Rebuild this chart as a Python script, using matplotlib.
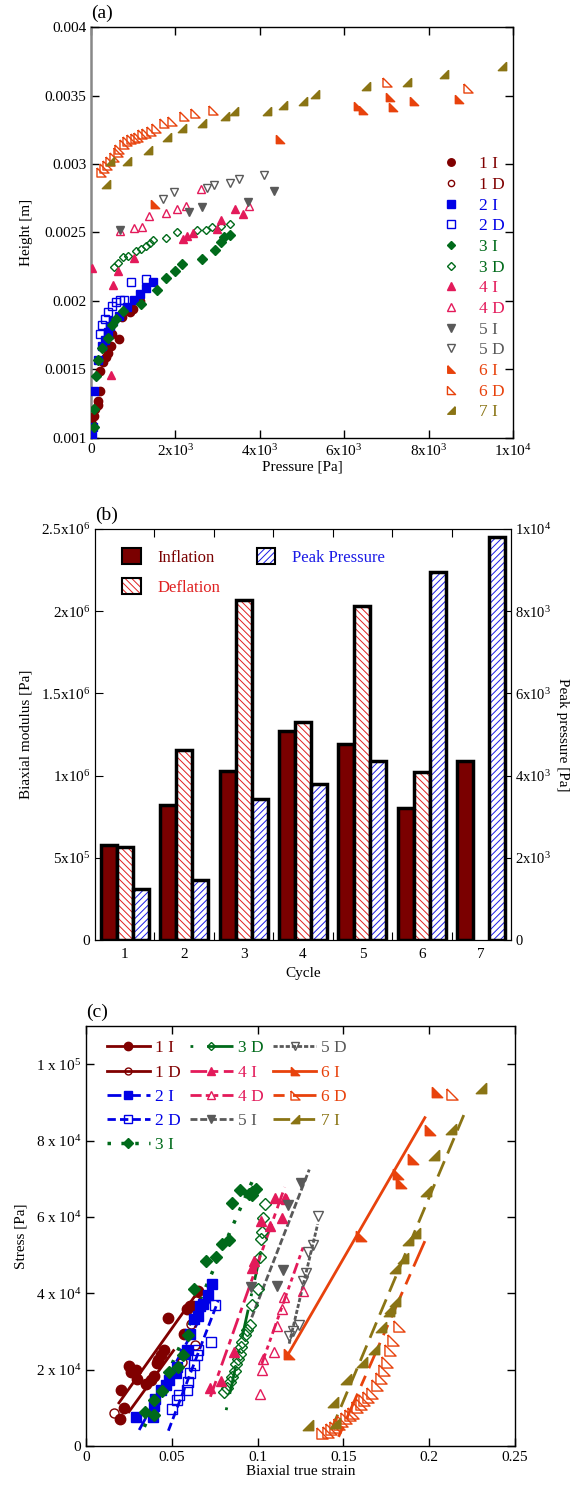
import numpy as np
import matplotlib
matplotlib.use('Agg')
import matplotlib.pyplot as plt
from matplotlib.patches import Patch

plt.rcParams['font.family'] = ['Liberation Serif', 'DejaVu Serif']
plt.rcParams['mathtext.fontset'] = 'custom'
plt.rcParams['mathtext.rm'] = 'Liberation Serif'
plt.rcParams['mathtext.it'] = 'Liberation Serif:italic'
plt.rcParams['hatch.linewidth'] = 0.7

# ---------------- panel (a): height vs pressure ----------------
p_1i = [31, 79, 95, 174, 174, 213, 213, 292, 348, 411, 474, 671, 490, 727, 924, 1003, 1161]
h_1i = [0.001105, 0.00116, 0.001208, 0.001244, 0.001273, 0.001345, 0.00149, 0.001557, 0.001593,
        0.001617, 0.001673, 0.001725, 0.001756, 0.001886, 0.001918, 0.001942, 0.002001]
p_1d = [174, 292, 411, 727]
h_1d = [0.00125, 0.00156, 0.00162, 0.00189]
p_2i = [31, 55, 79, 158, 268, 332, 395, 450, 529, 664, 845, 1027, 1161, 1304, 1462]
h_2i = [0.001015, 0.00108, 0.00134, 0.001569, 0.001673, 0.001713, 0.001773, 0.001817, 0.001857,
        0.001893, 0.001954, 0.002009, 0.00205, 0.002098, 0.002139]
p_2d = [213, 268, 332, 411, 490, 585, 687, 790, 940, 1304]
h_2d = [0.001761, 0.001826, 0.00187, 0.001918, 0.001961, 0.00199, 0.002007, 0.002009, 0.002139, 0.002158]
p_3i = [63, 79, 118, 158, 268, 395, 490, 585, 766, 1185, 1557, 1770, 1998, 2157, 2623, 2939, 3089,
        3144, 3286]
h_3i = [0.00108, 0.001208, 0.001451, 0.001569, 0.001653, 0.00173, 0.001821, 0.001869, 0.001925,
        0.001975, 0.002083, 0.002165, 0.00222, 0.002271, 0.002307, 0.002369, 0.00243, 0.002466, 0.002483]
p_3d = [553, 648, 751, 885, 1059, 1178, 1304, 1398, 1477, 1770, 2038, 2505, 2718, 2860, 3081, 3302]
h_3d = [0.00225, 0.002278, 0.002322, 0.002326, 0.002362, 0.002379, 0.002398, 0.002423, 0.002447,
        0.002461, 0.002504, 0.002516, 0.002516, 0.002538, 0.002545, 0.00256]
p_4i = [31, 648, 529, 466, 1027, 2172, 2275, 2409, 2986, 3081, 3421, 3603]
h_4i = [0.002237, 0.002218, 0.002115, 0.00146, 0.002316, 0.002453, 0.002472, 0.002496, 0.002527,
        0.002591, 0.002668, 0.002632]
p_4d = [687, 1027, 1201, 1382, 1778, 2045, 2252, 2615, 3752]
h_4d = [0.002511, 0.002531, 0.00254, 0.00262, 0.002644, 0.002673, 0.002692, 0.00282, 0.002692]
p_5i = [687, 2323, 2639, 3713, 4330]
h_5i = [0.002519, 0.002646, 0.002687, 0.002719, 0.002803]
p_5d = [1706, 1959, 2741, 2907, 3302, 3508, 4108]
h_5d = [0.002747, 0.002795, 0.002827, 0.002846, 0.00286, 0.002889, 0.002923]
p_6i = [1517, 4480, 6336, 6455, 7086, 7150, 7655, 8729]
h_6i = [0.002711, 0.00318, 0.003421, 0.003397, 0.003486, 0.003413, 0.003457, 0.003476]
p_6d = [237, 316, 379, 442, 537, 632, 664, 790, 853, 948, 1043, 1122, 1201, 1296, 1422, 1548, 1722,
        1928, 2204, 2465, 2900, 7008, 8928]
h_6d = [0.002939, 0.002968, 0.002995, 0.003024, 0.003048, 0.003084, 0.003108, 0.003144, 0.003168,
        0.00318, 0.003192, 0.003197, 0.003216, 0.003228, 0.00324, 0.003264, 0.003298, 0.003317,
        0.003348, 0.00337, 0.003397, 0.003601, 0.003558]
p_7i = [348, 458, 845, 1359, 1793, 2149, 2639, 3176, 3397, 4164, 4558, 5032, 5309, 6518, 7497, 8366, 9733]
h_7i = [0.002856, 0.003024, 0.003019, 0.003101, 0.0032, 0.00326, 0.003296, 0.003353, 0.00339, 0.00339,
        0.003433, 0.003457, 0.003509, 0.00357, 0.003601, 0.003654, 0.003716]

# ---------------- panel (b): modulus per cycle ----------------
cycles = [1, 2, 3, 4, 5, 6, 7]
mod_inflation = [5.8e5, 8.2e5, 1.03e6, 1.27e6, 1.19e6, 8.05e5, 1.09e6]
mod_deflation = [5.67e5, 1.157e6, 2.07e6, 1.328e6, 2.03e6, 1.02e6, np.nan]
peak_pressure = [1230, 1465, 3430, 3800, 4360, 8960, 9800]

# ---------------- panel (c): stress vs strain ----------------
e_1i = [0.0198, 0.0203, 0.022, 0.025, 0.0262, 0.0292, 0.0299, 0.0352, 0.0378, 0.0395, 0.0412, 0.042,
        0.0437, 0.0454, 0.048, 0.0569, 0.0591, 0.0608, 0.0625, 0.0651]
s_1i = [6960, 14600, 9830, 20860, 19300, 19820, 17650, 16170, 17210, 18260, 21730, 22600, 23730,
        25220, 33560, 29390, 35910, 36770, 36770, 40680]
e_1d = [0.0164, 0.0559, 0.0612, 0.0634, 0.064]
s_1d = [8520, 21990, 32000, 26340, 38080]
e_2i = [0.0292, 0.039, 0.0395, 0.0405, 0.0437, 0.0469, 0.0484, 0.0523, 0.0533, 0.0576, 0.0587, 0.0608,
        0.0629, 0.0651, 0.0667, 0.0683, 0.071, 0.0736]
s_2i = [7650, 7650, 10430, 12430, 14600, 15910, 17390, 19120, 20690, 24170, 25040, 29390, 33300,
        34160, 36770, 37210, 39640, 42430]
e_2d = [0.0501, 0.0533, 0.0544, 0.0587, 0.0597, 0.0608, 0.0629, 0.0646, 0.0651, 0.0731, 0.0753]
s_2d = [9570, 12000, 13300, 14600, 16770, 19120, 21120, 23730, 25040, 27200, 37030]
e_3i = [0.0341, 0.0395, 0.0395, 0.0442, 0.0484, 0.0538, 0.0565, 0.0597, 0.0629, 0.0698, 0.0758,
        0.0794, 0.0832, 0.0851, 0.09, 0.0949, 0.097, 0.0988, 0.0966]
s_3i = [8950, 12170, 8080, 14430, 19380, 20690, 23730, 28950, 41120, 48510, 49550, 53030, 53900,
        63710, 66940, 66060, 66580, 67210, 65650]
e_3d = [0.0804, 0.0821, 0.0838, 0.0853, 0.0868, 0.0875, 0.0885, 0.0896, 0.0902, 0.0911, 0.0924,
        0.0941, 0.0956, 0.097, 0.1002, 0.1013, 0.1017, 0.1024, 0.1034, 0.1045]
s_3d = [14170, 15300, 16770, 18080, 19640, 21560, 22870, 24170, 25900, 27200, 28950, 30430, 31740,
        37030, 41120, 49550, 54160, 56150, 59800, 63450]
e_4i = [0.0721, 0.0789, 0.086, 0.097, 0.0981, 0.1017, 0.1073, 0.1099, 0.1141, 0.1158]
s_4i = [15300, 16950, 24600, 46600, 48510, 58940, 57640, 65020, 59800, 65020]
e_4d = [0.1013, 0.1026, 0.1034, 0.1094, 0.1116, 0.1141, 0.1152, 0.1265, 0.1163]
s_4d = [13730, 19820, 22870, 24600, 31560, 35910, 38940, 40680, 64580]
e_5i = [0.096, 0.1116, 0.1146, 0.1175, 0.1252]
s_5i = [41550, 41990, 46080, 63110, 68930]
e_5d = [0.1184, 0.1205, 0.1244, 0.1265, 0.128, 0.1295, 0.1323, 0.135]
s_5d = [28690, 30250, 31820, 43290, 45200, 50940, 52680, 60240]
e_6i = [0.1184, 0.16, 0.1819, 0.1834, 0.1905, 0.2005, 0.2045]
s_6i = [24170, 55030, 71280, 68930, 75290, 82900, 92800]
e_6d = [0.1376, 0.1408, 0.1429, 0.145, 0.1472, 0.1493, 0.1515, 0.1536, 0.1557, 0.1579, 0.16, 0.1621,
        0.1643, 0.1664, 0.1696, 0.1721, 0.1734, 0.1755, 0.177, 0.1792, 0.1824, 0.2133]
s_6d = [3300, 3740, 4350, 5040, 5740, 6610, 7220, 8080, 8690, 10090, 10950, 12000, 12860, 13900, 15910,
        17910, 19820, 21990, 25040, 27640, 31560, 92300]
e_7i = [0.1291, 0.144, 0.145, 0.1515, 0.1611, 0.1679, 0.1717, 0.1764, 0.177, 0.1802, 0.1798, 0.1845,
        0.1877, 0.192, 0.1984, 0.2026, 0.213, 0.2302]
s_7i = [5480, 11560, 5910, 17650, 21990, 25480, 31110, 35470, 36170, 38080, 46600, 49370, 53900,
        55890, 66760, 76150, 83000, 93900]

# fitted lines: (strain start, strain end), (stress start, stress end)
fit_1i = ([0.0192, 0.063], [11300, 39000])
fit_1d = ([0.025, 0.051], [8950, 25000])
fit_2i = ([0.031, 0.072], [4200, 38000])
fit_2d = ([0.048, 0.077], [4000, 38000])
fit_3i = ([0.034, 0.099], [5000, 71500])
fit_3d = ([0.0817, 0.1035], [9400, 54200])
fit_4i = ([0.0725, 0.1158], [12900, 67800])
fit_4d = ([0.1024, 0.1265], [21500, 52000])
fit_5i = ([0.0966, 0.1301], [33700, 72400])
fit_5d = ([0.1184, 0.135], [26800, 58100])
fit_6i = ([0.118, 0.1975], [24200, 86000])
fit_6d = ([0.1472, 0.1984], [2400, 54600])
fit_7i = ([0.1429, 0.2214], [4200, 88000])

labels = ['1 I', '1 D', '2 I', '2 D', '3 I', '3 D', '4 I', '4 D', '5 I', '5 D', '6 I', '6 D', '7 I']
c1, c2, c3, c4, c5, c6, c7 = '#800000', '#0000e6', '#006a1a', '#e31a5a', '#595959', '#e8420c', '#8a7414'
colors = [c1, c1, c2, c2, c3, c3, c4, c4, c5, c5, c6, c6, c7]
tri6 = [(-1, 1), (-1, -1), (1, -1), (-1, 1)]
tri7 = [(1, 1), (1, -1), (-1, -1), (1, 1)]
markers = ['o', 'o', 's', 's', 'D', 'D', '^', '^', 'v', 'v', tri6, tri6, tri7]
filled = [True, False] * 6 + [True]
msizes = [6, 5, 6, 6, 5, 4.5, 6, 6, 6, 6, 6, 6.5, 6]

a_data = [(p_1i, h_1i), (p_1d, h_1d), (p_2i, h_2i), (p_2d, h_2d), (p_3i, h_3i), (p_3d, h_3d),
          (p_4i, h_4i), (p_4d, h_4d), (p_5i, h_5i), (p_5d, h_5d), (p_6i, h_6i), (p_6d, h_6d),
          (p_7i, h_7i)]
c_data = [(e_1i, s_1i), (e_1d, s_1d), (e_2i, s_2i), (e_2d, s_2d), (e_3i, s_3i), (e_3d, s_3d),
          (e_4i, s_4i), (e_4d, s_4d), (e_5i, s_5i), (e_5d, s_5d), (e_6i, s_6i), (e_6d, s_6d),
          (e_7i, s_7i)]
fits = [fit_1i, fit_1d, fit_2i, fit_2d, fit_3i, fit_3d, fit_4i, fit_4d, fit_5i, fit_5d, fit_6i,
        fit_6d, fit_7i]
dashes = [None, None, (5, 2), (3, 1.5), (1, 3), (1, 5, 10, 5), (6, 2, 2, 2), (4, 1.5, 1.5, 1.5, 1.5, 1.5),
          (2.5, 1), (1.5, 0.7), None, (4, 3, 10, 3), (6, 3)]
line_w = [2, 2, 2, 2, 2.5, 2, 2, 2, 2, 2, 2, 2, 2]

fig = plt.figure(figsize=(5.71, 14.85), dpi=100)


def style_ticks(ax):
    ax.tick_params(direction='in', length=6, width=1, top=True, right=True, labelsize=11)
    for s in ax.spines.values():
        s.set_linewidth(1.0)


def color_legend(leg, cols):
    for t, c in zip(leg.get_texts(), cols):
        t.set_color(c)


# ---- (a)
ax1 = fig.add_axes([0.1594, 0.7051, 0.739, 0.2767])
order = [1, 0] + list(range(2, 13))
handles_a = [None] * 13
for i in order:
    x, y = a_data[i]
    mfc = colors[i] if filled[i] else 'none'
    ln, = ax1.plot(x, y, linestyle='none', marker=markers[i], ms=msizes[i], mfc=mfc,
                   mec=colors[i], mew=1.0, label=labels[i], zorder=3)
    handles_a[i] = ln
ax1.set_xlim(0, 1e4)
ax1.set_ylim(0.001, 0.004)
ax1.set_xticks([0, 2e3, 4e3, 6e3, 8e3, 1e4])
ax1.set_xticklabels(['0', '2x10$^3$', '4x10$^3$', '6x10$^3$', '8x10$^3$', '1x10$^4$'])
ax1.set_yticks([0.001, 0.0015, 0.002, 0.0025, 0.003, 0.0035, 0.004])
ax1.set_yticklabels(['0.001', '0.0015', '0.002', '0.0025', '0.003', '0.0035', '0.004'])
style_ticks(ax1)
ax1.spines['left'].set_color('#888888')
ax1.spines['left'].set_linewidth(1.8)
ax1.set_xlabel('Pressure [Pa]', fontsize=11, labelpad=1)
ax1.set_ylabel('Height [m]', fontsize=11, labelpad=8)
ax1.text(0.0, 1.012, '(a)', transform=ax1.transAxes, fontsize=14, ha='left', va='bottom')
leg1 = ax1.legend(handles_a, labels, loc='upper left', bbox_to_anchor=(0.8, 0.715), frameon=False,
                  fontsize=12.5, labelspacing=0.26, handletextpad=1.0, handlelength=1.2,
                  borderpad=0.2, markerscale=0.9)
color_legend(leg1, colors)

# ---- (b)
ax2 = fig.add_axes([0.1664, 0.367, 0.7285, 0.2768])
ax2r = ax2.twinx()
w = 0.27
xc = np.array(cycles, dtype=float)
ax2.bar(xc - w, mod_inflation, width=w, color='#7a0000', edgecolor='black', linewidth=2.5, zorder=3)
ax2.bar(xc, mod_deflation, width=w, color='white', edgecolor='#e02020', hatch='\\\\\\\\\\',
        linewidth=0, zorder=3)
ax2.bar(xc, mod_deflation, width=w, fill=False, edgecolor='black', linewidth=2.5, zorder=4)
ax2r.bar(xc + w, peak_pressure, width=w, color='white', edgecolor='#1a1ae6', hatch='/////',
         linewidth=0, zorder=3)
ax2r.bar(xc + w, peak_pressure, width=w, fill=False, edgecolor='black', linewidth=2.5, zorder=4)
ax2.set_xlim(0.5, 7.5)
ax2.set_ylim(0, 2.5e6)
ax2r.set_ylim(0, 1e4)
ax2.set_xticks([1.5, 2.5, 3.5, 4.5, 5.5, 6.5])
ax2.set_xticklabels([])
ax2.set_xticks(cycles, minor=True)
ax2.set_xticklabels([str(c) for c in cycles], minor=True)
ax2.tick_params(axis='x', which='minor', length=0, labelsize=11, pad=6)
ax2.tick_params(axis='x', which='major', direction='in', length=6, top=True)
ax2.set_yticks([0, 5e5, 1e6, 1.5e6, 2e6, 2.5e6])
ax2.set_yticklabels(['0', '5x10$^5$', '1x10$^6$', '1.5x10$^6$', '2x10$^6$', '2.5x10$^6$'])
ax2.tick_params(axis='y', direction='in', length=6, labelsize=11)
ax2r.set_yticks([0, 2e3, 4e3, 6e3, 8e3, 1e4])
ax2r.set_yticklabels(['0', '2x10$^3$', '4x10$^3$', '6x10$^3$', '8x10$^3$', '1x10$^4$'])
ax2r.tick_params(axis='y', direction='in', length=6, labelsize=10.5, pad=3)
ax2.set_xlabel('Cycle', fontsize=11, labelpad=4)
ax2.set_ylabel('Biaxial modulus [Pa]', fontsize=11, labelpad=6)
ax2r.set_ylabel('Peak pressure [Pa]', fontsize=11, rotation=270, va='center')
ax2r.yaxis.set_label_coords(1.125, 0.5)
ax2.text(0.0, 1.012, '(b)', transform=ax2.transAxes, fontsize=14, ha='left', va='bottom')
box = dict(fill=False, edgecolor='black', linewidth=1.5)
leg_handles = [Patch(facecolor='#7a0000', edgecolor='black', linewidth=1.5),
               (Patch(facecolor='white', edgecolor='#e02020', hatch='\\\\\\\\\\', linewidth=0),
                Patch(**box)),
               (Patch(facecolor='white', edgecolor='#1a1ae6', hatch='/////', linewidth=0),
                Patch(**box))]
leg2 = ax2r.legend(leg_handles, ['Inflation', 'Deflation', 'Peak Pressure'], loc='upper left',
                   bbox_to_anchor=(0.03, 0.99), ncol=2, frameon=False, fontsize=12,
                   handlelength=1.1, handleheight=1.1, handletextpad=1.0, columnspacing=2.2,
                   labelspacing=0.75)
color_legend(leg2, ['#7a0000', '#e02020', '#1a1ae6'])

# ---- (c)
ax3 = fig.add_axes([0.1506, 0.02626, 0.7513, 0.2828])
handles_c = []
for i in range(13):
    x, y = c_data[i]
    fx, fy = fits[i]
    mfc = colors[i] if filled[i] else 'none'
    ln, = ax3.plot(fx, fy, color=colors[i], lw=line_w[i], zorder=2)
    if dashes[i] is not None:
        ln.set_dashes(dashes[i])
    ax3.plot(x, y, linestyle='none', marker=markers[i], ms=msizes[i] + 1.5, mfc=mfc,
             mec=colors[i], mew=1.0, zorder=3)
    h, = ax3.plot([], [], color=colors[i], lw=line_w[i], marker=markers[i], ms=msizes[i],
                  mfc=mfc, mec=colors[i], mew=1.0, label=labels[i])
    if dashes[i] is not None:
        h.set_dashes(dashes[i])
    handles_c.append(h)
ax3.set_xlim(0, 0.25)
ax3.set_ylim(0, 1.1e5)
ax3.set_xticks([0, 0.05, 0.1, 0.15, 0.2, 0.25])
ax3.set_xticklabels(['0', '0.05', '0.1', '0.15', '0.2', '0.25'])
ax3.set_yticks([0, 2e4, 4e4, 6e4, 8e4, 1e5])
ax3.set_yticklabels(['0', '2 x 10$^4$', '4 x 10$^4$', '6 x 10$^4$', '8 x 10$^4$', '1 x 10$^5$'])
style_ticks(ax3)
ax3.set_xlabel('Biaxial true strain', fontsize=11, labelpad=1)
ax3.set_ylabel('Stress [Pa]', fontsize=11, labelpad=6)
ax3.text(0.0, 1.012, '(c)', transform=ax3.transAxes, fontsize=14, ha='left', va='bottom')
leg3 = ax3.legend(handles_c, labels, loc='upper left', bbox_to_anchor=(0.02, 0.995), ncol=3,
                  frameon=False, fontsize=12.5, handlelength=2.5, handletextpad=0.3,
                  columnspacing=0.5, labelspacing=0.46, borderpad=0.2)
color_legend(leg3, colors)

fig.savefig('out.png', dpi=100)
